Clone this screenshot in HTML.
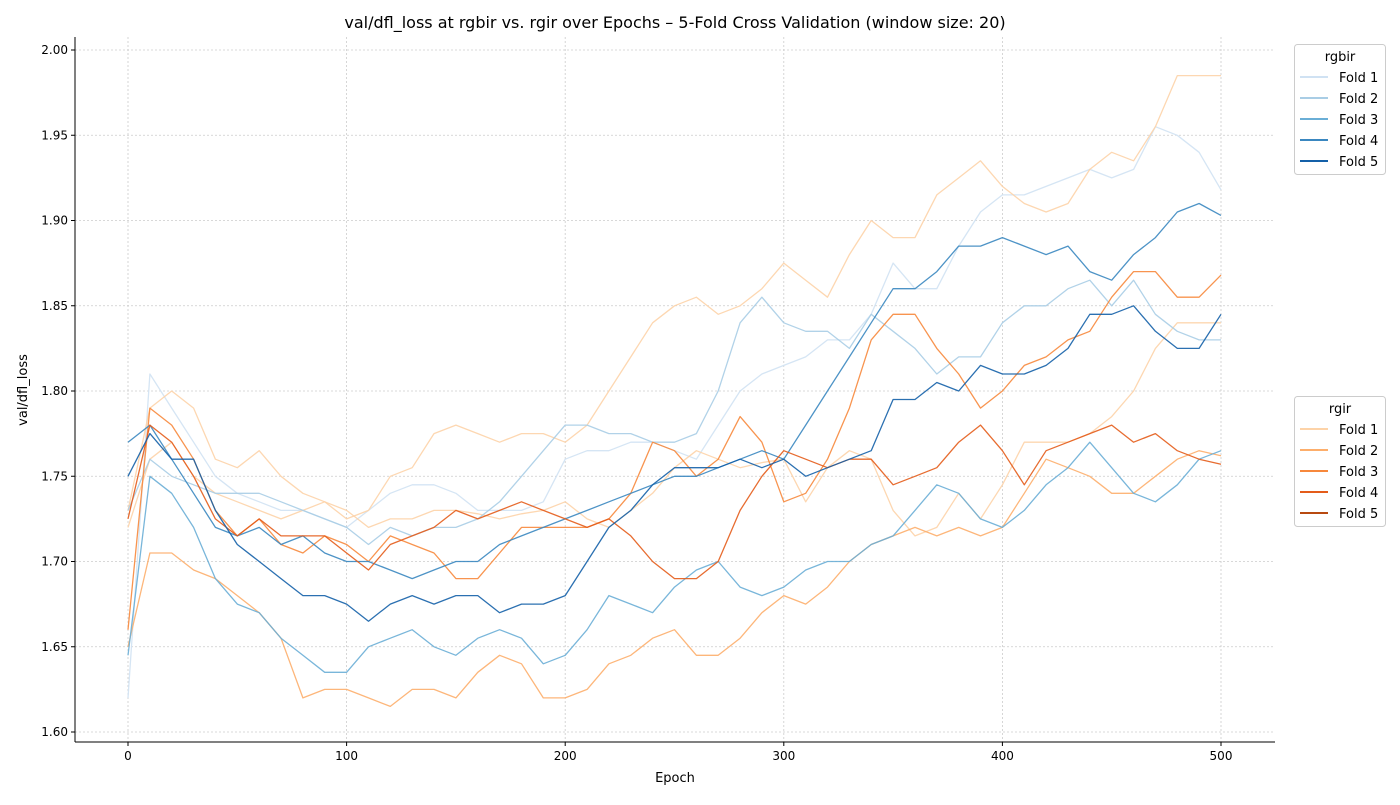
<!DOCTYPE html>
<html><head><meta charset="utf-8">
<style>
body{margin:0;background:#fff;font-family:"Liberation Sans","DejaVu Sans",sans-serif;}
svg text{font-family:"DejaVu Sans","Liberation Sans",sans-serif;}
</style></head>
<body>
<svg id="chart" width="1400" height="800" xmlns="http://www.w3.org/2000/svg">
<rect width="1400" height="800" fill="#fff"/>
<g id="grid"></g>
<g id="series"></g>
<g id="axes"></g>
<g id="legends"></g>
</svg>
<script>
const epochs = [0,10,20,30,40,50,60,70,80,90,100,110,120,130,140,150,160,170,180,190,200,210,220,230,240,250,260,270,280,290,300,310,320,330,340,350,360,370,380,390,400,410,420,430,440,450,460,470,480,490,500];
const xTicks = [0,100,200,300,400,500];
const yTicks = [1.60,1.65,1.70,1.75,1.80,1.85,1.90,1.95,2.00];
const rgbirF1 = [1.62,1.81,1.79,1.77,1.75,1.74,1.735,1.73,1.73,1.725,1.72,1.73,1.74,1.745,1.745,1.74,1.73,1.73,1.73,1.735,1.76,1.765,1.765,1.77,1.77,1.765,1.76,1.78,1.80,1.81,1.815,1.82,1.83,1.83,1.845,1.875,1.86,1.86,1.885,1.905,1.915,1.915,1.92,1.925,1.93,1.925,1.93,1.955,1.95,1.94,1.918];
const rgbirF2 = [1.73,1.76,1.75,1.745,1.74,1.74,1.74,1.735,1.73,1.725,1.72,1.71,1.72,1.715,1.72,1.72,1.725,1.735,1.75,1.765,1.78,1.78,1.775,1.775,1.77,1.77,1.775,1.80,1.84,1.855,1.84,1.835,1.835,1.825,1.845,1.835,1.825,1.81,1.82,1.82,1.84,1.85,1.85,1.86,1.865,1.85,1.865,1.845,1.835,1.83,1.83];
const rgbirF3 = [1.645,1.75,1.74,1.72,1.69,1.675,1.67,1.655,1.645,1.635,1.635,1.65,1.655,1.66,1.65,1.645,1.655,1.66,1.655,1.64,1.645,1.66,1.68,1.675,1.67,1.685,1.695,1.70,1.685,1.68,1.685,1.695,1.70,1.70,1.71,1.715,1.73,1.745,1.74,1.725,1.72,1.73,1.745,1.755,1.77,1.755,1.74,1.735,1.745,1.76,1.765];
const rgbirF4 = [1.77,1.78,1.76,1.74,1.72,1.715,1.72,1.71,1.715,1.705,1.70,1.70,1.695,1.69,1.695,1.70,1.70,1.71,1.715,1.72,1.725,1.73,1.735,1.74,1.745,1.75,1.75,1.755,1.76,1.765,1.76,1.78,1.80,1.82,1.84,1.86,1.86,1.87,1.885,1.885,1.89,1.885,1.88,1.885,1.87,1.865,1.88,1.89,1.905,1.91,1.903];
const rgbirF5 = [1.75,1.775,1.76,1.76,1.73,1.71,1.70,1.69,1.68,1.68,1.675,1.665,1.675,1.68,1.675,1.68,1.68,1.67,1.675,1.675,1.68,1.70,1.72,1.73,1.745,1.755,1.755,1.755,1.76,1.755,1.76,1.75,1.755,1.76,1.765,1.795,1.795,1.805,1.80,1.815,1.81,1.81,1.815,1.825,1.845,1.845,1.85,1.835,1.825,1.825,1.845];
const rgirF1 = [1.73,1.79,1.80,1.79,1.76,1.755,1.765,1.75,1.74,1.735,1.725,1.73,1.75,1.755,1.775,1.78,1.775,1.77,1.775,1.775,1.77,1.78,1.80,1.82,1.84,1.85,1.855,1.845,1.85,1.86,1.875,1.865,1.855,1.88,1.90,1.89,1.89,1.915,1.925,1.935,1.92,1.91,1.905,1.91,1.93,1.94,1.935,1.955,1.985,1.985,1.985];
const rgirF2 = [1.65,1.705,1.705,1.695,1.69,1.68,1.67,1.655,1.62,1.625,1.625,1.62,1.615,1.625,1.625,1.62,1.635,1.645,1.64,1.62,1.62,1.625,1.64,1.645,1.655,1.66,1.645,1.645,1.655,1.67,1.68,1.675,1.685,1.70,1.71,1.715,1.72,1.715,1.72,1.715,1.72,1.74,1.76,1.755,1.75,1.74,1.74,1.75,1.76,1.765,1.762];
const rgirF3 = [1.66,1.79,1.78,1.76,1.73,1.715,1.725,1.71,1.705,1.715,1.71,1.70,1.715,1.71,1.705,1.69,1.69,1.705,1.72,1.72,1.72,1.72,1.725,1.74,1.77,1.765,1.75,1.76,1.785,1.77,1.735,1.74,1.76,1.79,1.83,1.845,1.845,1.825,1.81,1.79,1.80,1.815,1.82,1.83,1.835,1.855,1.87,1.87,1.855,1.855,1.868];
const rgirF4 = [1.725,1.78,1.77,1.75,1.725,1.715,1.725,1.715,1.715,1.715,1.705,1.695,1.71,1.715,1.72,1.73,1.725,1.73,1.735,1.73,1.725,1.72,1.725,1.715,1.70,1.69,1.69,1.70,1.73,1.75,1.765,1.76,1.755,1.76,1.76,1.745,1.75,1.755,1.77,1.78,1.765,1.745,1.765,1.77,1.775,1.78,1.77,1.775,1.765,1.76,1.757];
const rgirF5 = [1.72,1.76,1.77,1.75,1.74,1.735,1.73,1.725,1.73,1.735,1.73,1.72,1.725,1.725,1.73,1.73,1.728,1.725,1.728,1.73,1.735,1.725,1.72,1.73,1.74,1.755,1.765,1.76,1.755,1.758,1.76,1.735,1.755,1.765,1.76,1.73,1.715,1.72,1.74,1.725,1.745,1.77,1.77,1.77,1.775,1.785,1.80,1.825,1.84,1.84,1.84];

const L=75,R=1275,T=37,B=742;
const X=e=>128+(e/500)*(1221-128);
const Y=v=>732-(v-1.6)*(682/0.4);
const NS="http://www.w3.org/2000/svg";
function mk(tag,attrs,parent){const el=document.createElementNS(NS,tag);for(const k in attrs)el.setAttribute(k,attrs[k]);parent.appendChild(el);return el;}
const grid=document.getElementById('grid'),axes=document.getElementById('axes'),ser=document.getElementById('series'),leg=document.getElementById('legends');

xTicks.forEach(t=>{
  const g=mk('line',{x1:X(t),x2:X(t),y1:T,y2:B,stroke:'#ccc','stroke-dasharray':'2,2','stroke-width':0.8},grid);
  
  
  mk('line',{x1:X(t),x2:X(t),y1:B,y2:B+4,stroke:'#000'},axes);
  const tx=mk('text',{x:X(t),y:B+18,'text-anchor':'middle','font-size':12},axes);tx.textContent=t;
  
  
});
yTicks.forEach(t=>{
  const g=mk('line',{x1:L,x2:R,y1:Y(t),y2:Y(t),stroke:'#ccc','stroke-dasharray':'2,2','stroke-width':0.8},grid);
  
  
  mk('line',{x1:L-4,x2:L,y1:Y(t),y2:Y(t),stroke:'#000'},axes);
  const tx=mk('text',{x:L-7,y:Y(t)+4,'text-anchor':'end','font-size':12},axes);tx.textContent=t.toFixed(2);
  
  
});
mk('line',{x1:L,x2:L,y1:T,y2:B,stroke:'#000'},axes);
mk('line',{x1:L,x2:R,y1:B,y2:B,stroke:'#000'},axes);
let t1=mk('text',{x:675,y:28,'text-anchor':'middle','font-size':16},axes);t1.textContent='val/dfl_loss at rgbir vs. rgir over Epochs – 5-Fold Cross Validation (window size: 20)';


let t2=mk('text',{x:675,y:782,'text-anchor':'middle','font-size':13},axes);t2.textContent='Epoch';


let t3=mk('text',{x:27,y:390,'text-anchor':'middle','font-size':13,transform:'rotate(-90 27 390)'},axes);t3.textContent='val/dfl_loss';



const blues=['#d0e2f3','#a9cde5','#6aaed6','#3a87c0','#1460a8'];
const oranges=['#fdd3a8','#fdae6b','#f7883c','#e45c1a','#b84a10'];
const drawOrder=[[rgbirF1,blues[0]],[rgirF1,oranges[0]],[rgirF5,oranges[0]],[rgbirF2,blues[1]],[rgirF2,oranges[1]],[rgbirF3,blues[2]],[rgirF3,oranges[2]],[rgbirF4,blues[3]],[rgirF4,oranges[3]],[rgbirF5,blues[4]]];
drawOrder.forEach(([vals,c])=>{
  const d=vals.map((v,i)=>(i?'L':'M')+X(epochs[i]).toFixed(1)+','+Y(v).toFixed(1)).join(' ');
  const p=mk('path',{d:d,fill:'none',stroke:c,'stroke-width':1.3,'stroke-opacity':0.9,'stroke-linejoin':'round'},ser);
  
  
});

function legend(y0,title,cols){
  const g=mk('g',{},leg);
  
  
  mk('rect',{x:1294.5,y:y0+0.5,width:91,height:130,rx:3,fill:'#fff',stroke:'#ccc'},g);
  const tt=mk('text',{x:1340,y:y0+17,'text-anchor':'middle','font-size':13},g);tt.textContent=title;
  cols.forEach((c,i)=>{
    const yy=y0+33+i*21;
    mk('line',{x1:1300,x2:1328,y1:yy,y2:yy,stroke:c,'stroke-width':2},g);
    const lt=mk('text',{x:1339,y:yy+5,'font-size':13},g);lt.textContent='Fold '+(i+1);
    
    
  });
}
legend(44,'rgbir',blues);
legend(396,'rgir',oranges);
</script>
</body></html>
